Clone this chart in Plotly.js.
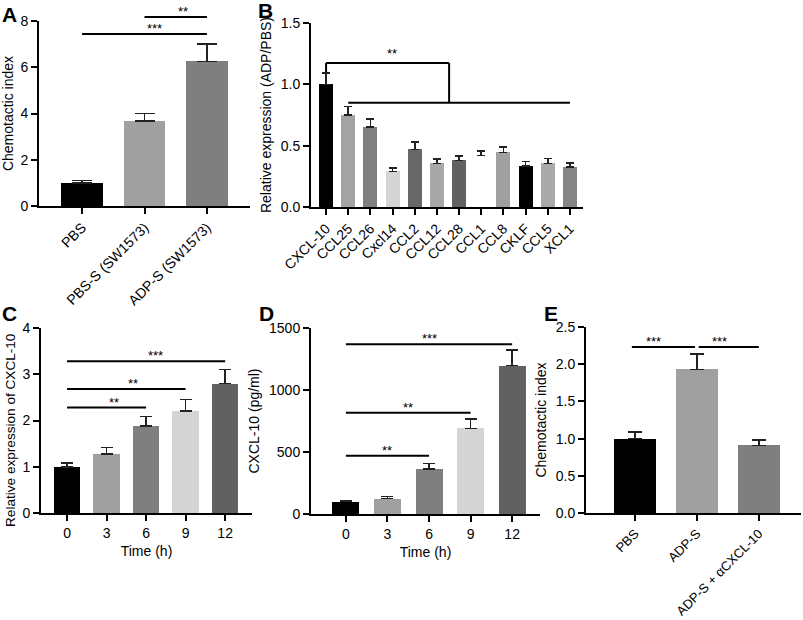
<!DOCTYPE html>
<html>
<head>
<meta charset="utf-8">
<script src="https://cdn.plot.ly/plotly-3.0.1.min.js"></script>
<style>html,body{margin:0;padding:0;background:#fff}#chart{width:803px;height:620px}</style>
</head>
<body>
<div id="chart"></div>
<script>
// ---------- DATA ----------
const catsA = ['PBS', 'PBS-S (SW1573)', 'ADP-S (SW1573)'];
const valsA = [1.0, 3.68, 6.25];
const errA  = [1.1, 4.0, 7.0];
const sigA  = [{from: 1, to: 2, y: 8.17, label: '**'}, {from: 0, to: 2, y: 7.44, label: '***'}];

const catsB = ['CXCL-10', 'CCL25', 'CCL26', 'Cxcl14', 'CCL2', 'CCL12', 'CCL28', 'CCL1', 'CCL8', 'CKLF', 'CCL5', 'XCL1'];
const valsB = [1.0, 0.75, 0.65, 0.29, 0.47, 0.355, 0.38, 0.42, 0.445, 0.335, 0.355, 0.325];
const errB  = [1.09, 0.82, 0.715, 0.32, 0.53, 0.39, 0.415, 0.455, 0.49, 0.37, 0.395, 0.36];

const timeC = ['0', '3', '6', '9', '12'];
const valsC = [1.0, 1.28, 1.88, 2.2, 2.8];
const errC  = [1.08, 1.42, 2.09, 2.45, 3.1];
const sigC  = [{from: 0, to: 2, y: 2.28, label: '**'}, {from: 0, to: 3, y: 2.68, label: '**'}, {from: 0, to: 4, y: 3.28, label: '***'}];

const timeD = ['0', '3', '6', '9', '12'];
const valsD = [100, 125, 363, 690, 1197];
const errD  = [107, 140, 407, 764, 1325];
const sigD  = [{from: 0, to: 2, y: 470, label: '**'}, {from: 0, to: 3, y: 817, label: '**'}, {from: 0, to: 4, y: 1368, label: '***'}];

const catsE = ['PBS', 'ADP-S', 'ADP-S + αCXCL-10'];
const valsE = [1.0, 1.93, 0.91];
const errE  = [1.09, 2.14, 0.98];
const sigE  = [{from: -0.05, to: 0.97, y: 2.23, label: '***'}, {from: 1.03, to: 2, y: 2.23, label: '***'}];

// Panel B bracket: CXCL-10 vs the rest
const bracketB = {left: 0, leftBottom: 1.10, top: 1.174, join: 5.55, lowY: 0.85, lowFrom: 1, lowTo: 11, label: '**'};

// ---------- STYLE ----------
const colA = ['#000000', '#a0a0a0', '#7f7f7f'];
const colB = ['#000000', '#a3a3a3', '#808080', '#d4d4d4', '#676767', '#a8a8a8', '#616161', '#ffffff', '#a0a0a0', '#000000', '#aaaaaa', '#858585'];
const colC = ['#000000', '#a0a0a0', '#7f7f7f', '#d4d4d4', '#616161'];
const colE = ['#000000', '#a0a0a0', '#7f7f7f'];

const W = 803, H = 620;
const dx = (a, b) => [a / W, b / W];
const dy = (top, bot) => [1 - bot / H, 1 - top / H];
const FONT = 'Liberation Sans, Arial, sans-serif';

function idx(arr) { return arr.map((_, i) => i); }

function barTrace(cats, vals, errs, colors, xa, ya, width, cap) {
  return {
    type: 'bar', x: idx(cats), y: vals, xaxis: xa, yaxis: ya,
    width: width,
    marker: {color: colors, line: {width: 0}},
    error_y: {type: 'data', symmetric: false,
      array: errs.map((e, i) => e - vals[i]), arrayminus: vals.map(() => 0),
      color: '#222', thickness: 1.6, width: cap},
    hoverinfo: 'x+y', showlegend: false
  };
}

const traces = [
  barTrace(catsA, valsA, errA, colA, 'x', 'y', 0.66, 10),
  barTrace(catsB, valsB, errB, colB, 'x2', 'y2', 0.63, 4),
  barTrace(timeC, valsC, errC, colC, 'x3', 'y3', 0.67, 6),
  barTrace(timeD, valsD, errD, colC, 'x4', 'y4', 0.65, 6),
  barTrace(catsE, valsE, errE, colE, 'x5', 'y5', 0.67, 7)
];

const tickFont = {family: FONT, size: 14, color: '#000'};
function xAxis(cats, dom, range, anchor, angle, title, fsize) {
  const ax = {
    domain: dom, range: range, anchor: anchor,
    tickmode: 'array', tickvals: idx(cats), ticktext: cats,
    tickangle: angle, tickfont: {family: FONT, size: fsize || 14, color: '#000'},
    showline: true, linewidth: 2, linecolor: '#000',
    ticks: 'outside', ticklen: 6, tickwidth: 2, tickcolor: '#000',
    showgrid: false, zeroline: false, fixedrange: true
  };
  if (title) ax.title = {text: title, font: {family: FONT, size: 14, color: '#000'}, standoff: 6};
  return ax;
}
function yAxis(dom, range, dtick, fmt, anchor, title, tsize, standoff) {
  const ax = {
    domain: dom, range: range, anchor: anchor, dtick: dtick, tick0: 0, tickformat: fmt,
    tickfont: tickFont,
    showline: true, linewidth: 2, linecolor: '#000',
    ticks: 'outside', ticklen: 6, tickwidth: 2, tickcolor: '#000',
    showgrid: false, zeroline: false, fixedrange: true
  };
  if (title) ax.title = {text: title, font: {family: FONT, size: tsize, color: '#000'}, standoff: standoff};
  return ax;
}

const layout = {
  width: W, height: H, margin: {l: 0, r: 0, t: 0, b: 0},
  paper_bgcolor: '#fff', plot_bgcolor: 'rgba(0,0,0,0)',
  font: {family: FONT, color: '#000'},
  showlegend: false, bargap: 0,
  xaxis:  xAxis(catsA, dx(39, 250), [-0.69, 2.69], 'y', -45),
  yaxis:  yAxis(dy(21, 206), [0, 8], 2, 'd', 'x', 'Chemotactic index', 14, 6),
  xaxis2: xAxis(catsB, dx(311, 583), [-0.68, 11.59], 'y2', -45),
  yaxis2: yAxis(dy(23, 207), [0, 1.5], 0.5, '.1f', 'x2', 'Relative expression (ADP/PBS)', 14, 6),
  xaxis3: xAxis(timeC, dx(41, 252), [-0.66, 4.68], 'y3', 0, 'Time (h)'),
  yaxis3: yAxis(dy(328, 513), [0, 4], 1, 'd', 'x3', null),
  xaxis4: xAxis(timeD, dx(311, 540), [-0.84, 4.67], 'y4', 0, 'Time (h)'),
  yaxis4: yAxis(dy(328, 514), [0, 1500], 500, 'd', 'x4', 'CXCL-10 (pg/ml)', 14, 6),
  xaxis5: xAxis(catsE, dx(586, 801), [-0.79, 2.68], 'y5', -45, null, 13),
  yaxis5: yAxis(dy(327, 513), [0, 2.5], 0.5, '.1f', 'x5', 'Chemotactic index', 14, 6),
  shapes: [], annotations: []
};

// Panel C y title as annotation (sits lower than the axis centre, as in the original)
layout.annotations.push({xref: 'paper', yref: 'paper', x: 10 / W, y: 1 - 430 / H, text: 'Relative expression of CXCL-10',
  textangle: -90, showarrow: false, xanchor: 'center', yanchor: 'middle',
  font: {family: FONT, size: 13.6, color: '#000'}});

// convert data coords of an axis into paper coords (so lines above the range are not clipped)
function px(axName, v) { const a = layout[axName]; return a.domain[0] + (v - a.range[0]) / (a.range[1] - a.range[0]) * (a.domain[1] - a.domain[0]); }

const starFont = {family: FONT, size: 13, color: '#000'};
function addSig(list, xa, ya) {
  list.forEach(s => {
    const yy = px(ya, s.y);
    layout.shapes.push({type: 'line', xref: 'paper', yref: 'paper', x0: px(xa, s.from), x1: px(xa, s.to), y0: yy, y1: yy,
      line: {color: '#000', width: 2}});
    layout.annotations.push({xref: 'paper', yref: 'paper', x: px(xa, (s.from + s.to) / 2), y: yy, text: s.label,
      showarrow: false, yanchor: 'bottom', yshift: -4, font: starFont});
  });
}
addSig(sigA, 'xaxis', 'yaxis');
addSig(sigC, 'xaxis3', 'yaxis3');
addSig(sigD, 'xaxis4', 'yaxis4');
addSig(sigE, 'xaxis5', 'yaxis5');

const bl = {color: '#000', width: 2};
layout.shapes.push(
  {type: 'line', xref: 'x2', yref: 'y2', x0: bracketB.left, x1: bracketB.left, y0: bracketB.leftBottom, y1: bracketB.top, line: bl},
  {type: 'line', xref: 'x2', yref: 'y2', x0: bracketB.left, x1: bracketB.join, y0: bracketB.top, y1: bracketB.top, line: bl},
  {type: 'line', xref: 'x2', yref: 'y2', x0: bracketB.join, x1: bracketB.join, y0: bracketB.top, y1: bracketB.lowY, line: bl},
  {type: 'line', xref: 'x2', yref: 'y2', x0: bracketB.lowFrom, x1: bracketB.lowTo, y0: bracketB.lowY, y1: bracketB.lowY, line: bl}
);
layout.annotations.push({xref: 'x2', yref: 'y2', x: (bracketB.left + bracketB.join) / 2 + 0.2, y: bracketB.top, text: bracketB.label,
  showarrow: false, yanchor: 'bottom', yshift: 0, font: starFont});

// Panel letters
const letters = [['A', 9, 14], ['B', 265, 11], ['C', 9, 313], ['D', 266, 313], ['E', 551, 313]];
letters.forEach(l => layout.annotations.push({xref: 'paper', yref: 'paper', x: l[1] / W, y: 1 - l[2] / H,
  text: '<b>' + l[0] + '</b>', showarrow: false, xanchor: 'center', yanchor: 'middle',
  font: {family: FONT, size: 21, color: '#000'}}));

Plotly.newPlot('chart', traces, layout, {displayModeBar: false, staticPlot: true});
</script>
</body>
</html>
